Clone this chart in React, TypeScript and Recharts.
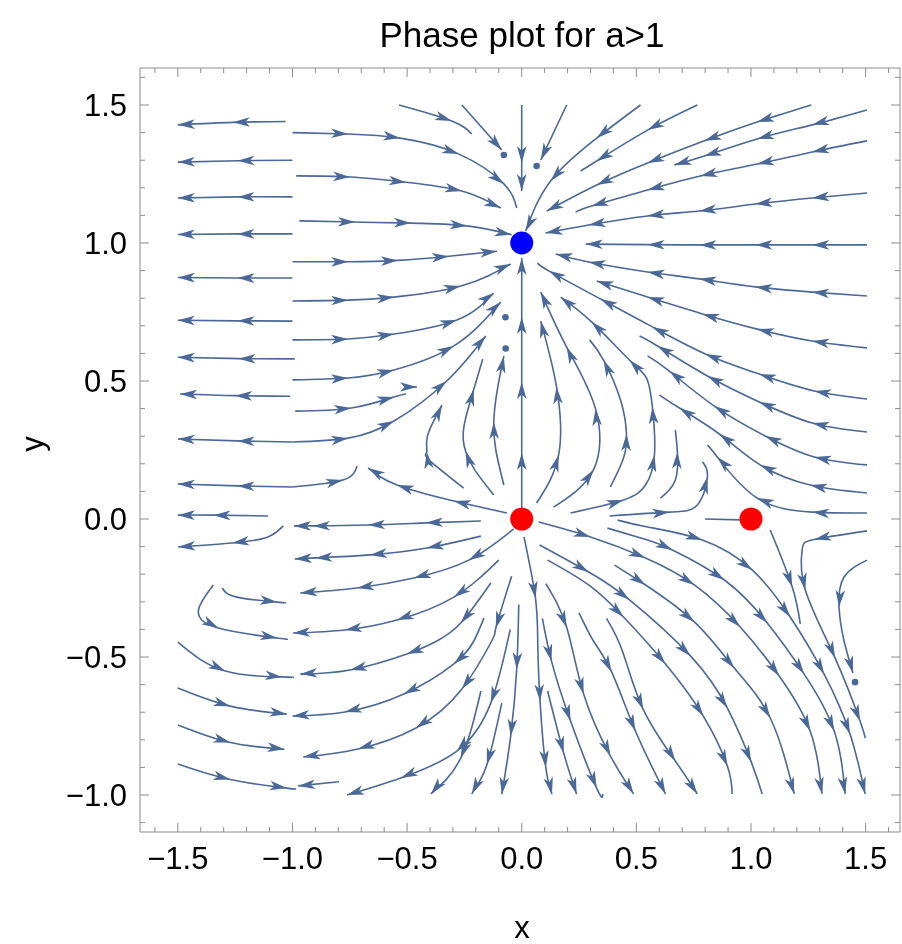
import React from "react";
import { ComposedChart, Line, Scatter, XAxis, YAxis, ReferenceDot } from "recharts";

// ── data (x / y in plot units, 3rd value = arrowhead at that point) ──
type Pt = [number, number, number];

const FAR_LEFT: Pt[][] = [
  [[-1.03, 1.44, 0], [-1.26, 1.437, 1], [-1.5, 1.428, 1]],
  [[-1.0, 1.3, 0], [-1.24, 1.298, 1], [-1.5, 1.293, 1]],
  [[-1.0, 1.167, 0], [-1.24, 1.167, 1], [-1.5, 1.163, 1]],
  [[-1.0, 1.033, 0], [-1.24, 1.033, 1], [-1.5, 1.031, 1]],
  [[-1.0, 0.873, 0], [-1.24, 0.873, 1], [-1.5, 0.875, 1]],
  [[-1.0, 0.717, 0], [-1.24, 0.718, 1], [-1.5, 0.72, 1]],
  [[-0.99, 0.58, 0], [-1.235, 0.581, 1], [-1.5, 0.586, 1]],
  [[-1.01, 0.445, 0], [-1.25, 0.447, 1], [-1.49, 0.453, 1]],
  [[-1.0, 0.279, 0], [-1.24, 0.283, 1], [-1.5, 0.29, 1]],
  [[-1.0, 0.116, 0], [-1.24, 0.12, 1], [-1.5, 0.127, 1]],
  [[-1.106, 0.011, 0], [-1.345, 0.014, 1], [-1.5, 0.014, 1]],
  [[-1.04, -0.025, 0], [-1.11, -0.066, 0], [-1.263, -0.087, 1], [-1.498, -0.101, 1]],
  [[-1.306, -0.25, 0], [-1.242, -0.283, 0], [-1.067, -0.301, 1], [-1.032, -0.304, 0]],
  [[-1.345, -0.239, 0], [-1.41, -0.33, 0], [-1.323, -0.395, 1], [-1.067, -0.431, 1], [-1.032, -0.435, 0]],
  [[-1.5, -0.446, 0], [-1.293, -0.551, 1], [-1.045, -0.572, 1], [-0.997, -0.576, 0]],
  [[-1.5, -0.612, 0], [-1.271, -0.678, 1], [-1.025, -0.707, 1]],
  [[-1.5, -0.746, 0], [-1.271, -0.81, 1], [-1.035, -0.834, 1]],
  [[-1.5, -0.888, 0], [-1.271, -0.944, 1], [-1.025, -0.975, 1], [-0.995, -0.977, 0]],
];

const TOP_LEFT: Pt[][] = [
  [[-1.0, 1.4, 0], [-0.757, 1.395, 1], [-0.53, 1.38, 1], [-0.274, 1.322, 1], [-0.078, 1.214, 1], [-0.022, 1.127, 0]],
  [[-0.984, 1.243, 0], [-0.749, 1.239, 1], [-0.505, 1.22, 1], [-0.261, 1.188, 1], [-0.091, 1.127, 1]],
  [[-0.97, 1.08, 0], [-0.727, 1.076, 1], [-0.483, 1.072, 1], [-0.239, 1.062, 1], [-0.044, 1.03, 1]],
  [[-1.0, 0.932, 0], [-0.757, 0.932, 1], [-0.54, 0.937, 1], [-0.318, 0.952, 1], [-0.108, 0.97, 1]],
  [[-1.0, 0.79, 0], [-0.757, 0.793, 1], [-0.557, 0.804, 1], [-0.266, 0.844, 1], [-0.048, 0.924, 1]],
  [[-1.0, 0.649, 0], [-0.757, 0.652, 1], [-0.557, 0.67, 1], [-0.283, 0.721, 1], [-0.122, 0.819, 1]],
  [[-1.0, 0.504, 0], [-0.757, 0.511, 1], [-0.557, 0.54, 1], [-0.296, 0.627, 1], [-0.091, 0.786, 1]],
  [[-0.988, 0.391, 0], [-0.744, 0.402, 1], [-0.557, 0.442, 1], [-0.505, 0.453, 0]],
  [[-0.5, 0.478, 0], [-0.457, 0.478, 1]],
  [[-1.0, 0.279, 0], [-0.757, 0.293, 1], [-0.557, 0.355, 1], [-0.327, 0.5, 1], [-0.157, 0.663, 1]],
  [[-1.0, 0.116, 0], [-0.78, 0.141, 1], [-0.718, 0.192, 0]],
  [[-0.535, 1.5, 0], [-0.305, 1.442, 1], [-0.218, 1.395, 0]],
  [[-0.261, 1.5, 0], [-0.087, 1.337, 1]],
  [[0, 1.5, 0], [0, 1.29, 1], [0, 1.188, 1]],
];

const TOP_RIGHT: Pt[][] = [
  [[0.196, 1.5, 0], [0.083, 1.301, 1]],
  [[0.518, 1.5, 0], [0.327, 1.38, 1], [0.126, 1.225, 1], [0.017, 1.043, 1]],
  [[0.766, 1.5, 0], [0.549, 1.409, 1], [0.327, 1.297, 1], [0.257, 1.261, 0]],
  [[1.263, 1.5, 0], [1.027, 1.438, 1], [0.797, 1.37, 1], [0.549, 1.29, 1], [0.327, 1.21, 1], [0.109, 1.116, 1]],
  [[1.506, 1.482, 0], [1.267, 1.428, 1], [1.027, 1.377, 1], [0.797, 1.315, 1], [0.666, 1.283, 1]],
  [[1.506, 1.37, 0], [1.267, 1.33, 1], [1.027, 1.286, 1], [0.779, 1.243, 1], [0.549, 1.192, 1], [0.305, 1.134, 1], [0.235, 1.112, 0]],
  [[1.506, 1.181, 0], [1.267, 1.163, 1], [1.019, 1.141, 1], [0.775, 1.116, 1], [0.549, 1.098, 1], [0.292, 1.065, 1], [0.104, 1.036, 1]],
  [[1.506, 0.993, 0], [1.267, 0.993, 1], [1.019, 0.993, 1], [0.775, 0.993, 1], [0.549, 0.994, 1], [0.279, 0.996, 1]],
  [[1.506, 0.808, 0], [1.267, 0.822, 1], [1.019, 0.841, 1], [0.775, 0.87, 1], [0.549, 0.895, 1], [0.292, 0.931, 1], [0.148, 0.96, 1]],
  [[1.506, 0.62, 0], [1.267, 0.645, 1], [1.027, 0.688, 1], [0.788, 0.743, 1], [0.549, 0.804, 1], [0.327, 0.862, 1]],
  [[1.506, 0.435, 0], [1.276, 0.464, 1], [1.036, 0.525, 1], [0.801, 0.598, 1], [0.57, 0.696, 1], [0.344, 0.797, 1], [0.118, 0.899, 1], [0.07, 0.928, 0]],
  [[1.506, 0.315, 0], [1.267, 0.348, 1], [1.036, 0.424, 1], [0.81, 0.518, 1], [0.592, 0.627, 1], [0.514, 0.663, 0]],
  [[1.506, 0.196, 0], [1.276, 0.225, 1], [1.062, 0.301, 1], [0.84, 0.409, 1], [0.644, 0.536, 1], [0.549, 0.591, 0]],
  [[1.506, 0.094, 0], [1.258, 0.123, 1], [1.04, 0.196, 1], [0.862, 0.308, 1], [0.688, 0.402, 1], [0.601, 0.449, 0]],
  [[1.506, 0.022, 0], [1.267, 0.025, 1], [1.027, 0.076, 1], [0.853, 0.225, 1], [0.81, 0.268, 0]],
];

const CENTER: Pt[][] = [
  [[0, 0.036, 0], [0, 0.239, 1], [0, 0.496, 1], [0, 0.732, 1], [0, 0.946, 1]],
  [[-0.253, 0.112, 0], [-0.405, 0.214, 0], [-0.414, 0.243, 1], [-0.411, 0.301, 0], [-0.348, 0.413, 1]],
  [[-0.122, 0.087, 0], [-0.205, 0.178, 0], [-0.245, 0.246, 1], [-0.253, 0.33, 0], [-0.209, 0.47, 1], [-0.17, 0.58, 0]],
  [[-0.078, 0.123, 0], [-0.113, 0.25, 0], [-0.122, 0.351, 1], [-0.108, 0.46, 0], [-0.078, 0.59, 1]],
  [[0.065, 0.058, 0], [0.161, 0.232, 1], [0.152, 0.478, 1], [0.083, 0.717, 1]],
  [[0.139, 0.043, 0], [0.313, 0.178, 1], [0.322, 0.399, 1], [0.196, 0.623, 1], [0.083, 0.822, 1]],
  [[0.387, 0.116, 0], [0.444, 0.221, 0], [0.457, 0.308, 1], [0.431, 0.431, 0], [0.357, 0.576, 1], [0.296, 0.649, 0]],
  [[0.213, 0.022, 0], [0.444, 0.069, 1], [0.54, 0.123, 0], [0.579, 0.232, 1], [0.57, 0.406, 1], [0.544, 0.511, 0], [0.47, 0.576, 1], [0.305, 0.714, 1], [0.17, 0.804, 1]],
  [[0.605, 0.076, 0], [0.67, 0.141, 0], [0.679, 0.243, 1], [0.67, 0.322, 0]],
  [[0.383, 0.011, 0], [0.644, 0.025, 1], [0.766, 0.051, 0], [0.81, 0.152, 1], [0.788, 0.207, 0]],
  [[0.8, 0, 0], [0.953, -0.003, 0]],
];

const LOWER_LEFT: Pt[][] = [
  [[-0.065, 0.022, 0], [-0.296, 0.065, 1], [-0.544, 0.123, 1], [-0.67, 0.185, 1]],
  [[-0.178, -0.007, 0], [-0.418, -0.014, 1], [-0.67, -0.022, 1], [-0.91, -0.025, 1], [-0.993, -0.025, 1]],
  [[-0.178, -0.062, 0], [-0.414, -0.105, 1], [-0.662, -0.13, 1], [-0.9, -0.141, 1], [-0.99, -0.145, 1]],
  [[-0.035, -0.036, 0], [-0.231, -0.149, 1], [-0.47, -0.214, 1], [-0.718, -0.25, 1], [-0.966, -0.268, 1]],
  [[-0.1, -0.149, 0], [-0.296, -0.283, 1], [-0.544, -0.366, 1], [-0.771, -0.402, 1], [-0.997, -0.413, 1]],
  [[-0.135, -0.232, 0], [-0.266, -0.377, 1], [-0.37, -0.442, 0], [-0.501, -0.489, 1], [-0.749, -0.547, 1], [-0.966, -0.562, 1]],
  [[-0.165, -0.359, 0], [-0.209, -0.442, 0], [-0.296, -0.525, 1], [-0.514, -0.634, 1], [-0.771, -0.699, 1], [-1.0, -0.714, 1]],
  [[-0.044, -0.207, 0], [-0.113, -0.395, 1], [-0.131, -0.442, 0], [-0.261, -0.616, 1], [-0.461, -0.757, 1], [-0.714, -0.833, 1], [-0.953, -0.862, 1]],
  [[-0.05, -0.4, 0], [-0.135, -0.667, 1], [-0.283, -0.841, 1], [-0.527, -0.938, 1], [-0.762, -1.0, 1]],
  [[-0.797, -0.952, 0], [-0.975, -0.967, 1]],
  [[-0.178, -0.623, 0], [-0.266, -0.866, 1], [-0.396, -0.996, 1]],
  [[-0.087, -0.667, 0], [-0.152, -0.89, 1], [-0.218, -0.996, 1]],
  [[-0.013, -0.31, 0], [-0.022, -0.545, 1], [-0.048, -0.786, 1], [-0.087, -0.997, 1]],
];

const LOWER_RIGHT: Pt[][] = [
  [[0.01, -0.065, 0], [0.06, -0.287, 1], [0.07, -0.45, 0], [0.08, -0.66, 1], [0.105, -0.9, 1], [0.132, -0.997, 1]],
  [[0.113, -0.623, 0], [0.183, -0.848, 1], [0.239, -0.996, 1]],
  [[0.09, -0.36, 0], [0.13, -0.515, 1], [0.213, -0.732, 1], [0.327, -0.975, 1], [0.353, -0.996, 0]],
  [[0.105, -0.234, 0], [0.196, -0.392, 1], [0.27, -0.634, 1], [0.387, -0.859, 1], [0.488, -0.996, 1]],
  [[0.25, -0.34, 0], [0.313, -0.442, 0], [0.392, -0.554, 1], [0.496, -0.768, 1], [0.627, -0.996, 1]],
  [[0.37, -0.36, 0], [0.44, -0.48, 0], [0.53, -0.69, 1], [0.67, -0.877, 1], [0.766, -0.996, 1]],
  [[0.113, -0.149, 0], [0.292, -0.239, 0], [0.444, -0.355, 1], [0.627, -0.525, 1], [0.792, -0.714, 1], [0.897, -0.895, 1], [0.918, -0.996, 0]],
  [[0.078, -0.094, 0], [0.292, -0.192, 1], [0.47, -0.293, 1], [0.736, -0.496, 1], [0.897, -0.685, 1], [1.001, -0.88, 1], [1.049, -0.996, 0]],
  [[0.405, -0.167, 0], [0.54, -0.239, 1], [0.753, -0.373, 1], [0.927, -0.54, 1], [1.084, -0.721, 1], [1.189, -0.996, 1]],
  [[0.074, -0.011, 0], [0.3, -0.065, 1], [0.54, -0.141, 1], [0.753, -0.239, 1], [0.953, -0.391, 1], [1.123, -0.569, 1], [1.258, -0.768, 1], [1.31, -0.996, 1]],
  [[0.374, -0.033, 0], [0.549, -0.076, 0], [0.657, -0.112, 1], [0.884, -0.221, 1], [1.071, -0.377, 1], [1.232, -0.562, 1], [1.363, -0.768, 1], [1.411, -0.996, 1]],
  [[0.418, -0.004, 0], [0.549, -0.029, 0], [0.788, -0.076, 1], [1.006, -0.185, 1], [1.171, -0.355, 1], [1.319, -0.562, 1], [1.432, -0.779, 1], [1.498, -0.996, 1]],
  [[1.506, -0.043, 0], [1.276, -0.074, 1], [1.223, -0.112, 0], [1.237, -0.257, 1], [1.367, -0.504, 1], [1.476, -0.733, 1], [1.498, -0.794, 0]],
  [[1.506, -0.149, 0], [1.406, -0.21, 0], [1.384, -0.319, 1], [1.406, -0.442, 0], [1.445, -0.558, 1]],
  [[1.084, -0.04, 0], [1.18, -0.246, 1], [1.215, -0.38, 0]],
];

const STREAM_DOTS: [number, number][] = [
  [-0.078, 1.319], [0.065, 1.279], [-0.071, 0.731], [-0.07, 0.618], [1.454, -0.591],
];
const SOURCE_POINTS: [number, number][] = [[0, 0], [1, 0]];
const SINK_POINTS: [number, number][] = [[0, 1]];

// ── layout ─────────────────────────────────────────────────────────────────────
const W = 902;
const H = 944;
const Y_AXIS_W = 140;
const X_AXIS_H = 112;
const MARGIN = { top: 67, right: 1, bottom: 0, left: 0 };
const X_DOMAIN: [number, number] = [-1.665, 1.65];
const Y_DOMAIN: [number, number] = [-1.134, 1.634];
const KX = (W - MARGIN.left - MARGIN.right - 1 - Y_AXIS_W) / (X_DOMAIN[1] - X_DOMAIN[0]);
const KY = (H - MARGIN.top - 1 - X_AXIS_H) / (Y_DOMAIN[1] - Y_DOMAIN[0]);

const STREAM = "#4a6898";
const FRAME = "#8c8c8c";
const FONT = "'Liberation Sans', Arial, sans-serif";
const TICK_FONT = 31;

const minorRange = (a: number, b: number) => {
  const out: number[] = [];
  for (let i = Math.round(a * 10); i <= Math.round(b * 10); i++) out.push(i / 10);
  return out;
};
const X_TICKS = minorRange(-1.6, 1.6);
const Y_TICKS = minorRange(-1.1, 1.6);
const isMajor = (v: number) => Math.abs(v * 2 - Math.round(v * 2)) < 1e-6;
const fmt = (v: number) => (Math.abs(v) < 1e-9 ? "0.0" : v.toFixed(1).replace("-", "\u2212"));

const STREAMS: Pt[][] = [...FAR_LEFT, ...TOP_LEFT, ...TOP_RIGHT, ...CENTER, ...LOWER_LEFT, ...LOWER_RIGHT];

// arrowheads sit on flagged points, pointing along the local direction of the line
const ARROWS = STREAMS.flatMap((s) =>
  s.flatMap((p, i) => {
    if (!p[2] || i === 0) return [];
    const prev = s[i - 1];
    const next = s[i + 1];
    const dx = next ? (next[0] - prev[0]) * 0.35 + (p[0] - prev[0]) * 0.65 : p[0] - prev[0];
    const dy = next ? (next[1] - prev[1]) * 0.35 + (p[1] - prev[1]) * 0.65 : p[1] - prev[1];
    return [{ x: p[0], y: p[1], ang: (Math.atan2(-dy * KY, dx * KX) * 180) / Math.PI }];
  })
);

function ArrowHead(props: any) {
  const { cx, cy, payload } = props;
  if (cx == null || cy == null) return null;
  return (
    <path
      d="M0,0 L-17,-4.8 L-12.5,0 L-17,4.8 Z"
      transform={`translate(${cx},${cy}) rotate(${payload.ang})`}
      fill={STREAM}
    />
  );
}

function SmallDot(props: any) {
  const { cx, cy } = props;
  return <circle cx={cx} cy={cy} r={3.3} fill={STREAM} />;
}

function BottomTick(p: any) {
  const v = p.payload.value;
  const major = isMajor(v);
  return (
    <g>
      <line x1={p.x} x2={p.x} y1={p.y} y2={p.y - (major ? 9 : 5)} stroke={FRAME} />
      {major && (
        <text x={p.x} y={p.y + 37} textAnchor="middle" fontSize={TICK_FONT} fontFamily={FONT} fill="#000">
          {fmt(v)}
        </text>
      )}
    </g>
  );
}
function TopTick(p: any) {
  const major = isMajor(p.payload.value);
  return <line x1={p.x} x2={p.x} y1={p.y} y2={p.y + (major ? 9 : 5)} stroke={FRAME} />;
}
function LeftTick(p: any) {
  const v = p.payload.value;
  const major = isMajor(v);
  return (
    <g>
      <line x1={p.x} x2={p.x + (major ? 9 : 5)} y1={p.y} y2={p.y} stroke={FRAME} />
      {major && (
        <text x={p.x - 13} y={p.y + 11} textAnchor="end" fontSize={TICK_FONT} fontFamily={FONT} fill="#000">
          {fmt(v)}
        </text>
      )}
    </g>
  );
}
function RightTick(p: any) {
  const major = isMajor(p.payload.value);
  return <line x1={p.x} x2={p.x - (major ? 9 : 5)} y1={p.y} y2={p.y} stroke={FRAME} />;
}

export default function App() {
  const axisCommon = {
    type: "number" as const,
    allowDataOverflow: true,
    interval: 0 as const,
    tickSize: 0,
    tickMargin: 0,
    tickLine: false,
    axisLine: { stroke: FRAME },
  };
  const label = {
    position: "absolute" as const, textAlign: "center" as const,
    fontFamily: FONT, color: "#000",
  };
  return (
    <div style={{ position: "fixed", left: 0, top: 0, width: W, height: H, background: "#fff" }}>
      <div style={{ ...label, left: 222, width: 600, top: 15, fontSize: 35, lineHeight: "40px" }}>
        Phase plot for a&gt;1
      </div>
      <div style={{ ...label, left: 502, width: 40, top: 910, fontSize: 31, lineHeight: "36px" }}>x</div>
      <div style={{ ...label, left: 13, width: 40, top: 426, fontSize: 31, lineHeight: "36px", transform: "rotate(-90deg)" }}>
        y
      </div>
      <ComposedChart width={W} height={H} margin={MARGIN} style={{ position: "absolute", left: 0, top: 0 }}>
        <XAxis {...axisCommon} dataKey="x" domain={X_DOMAIN} ticks={X_TICKS} height={X_AXIS_H} tick={<BottomTick />} />
        <XAxis {...axisCommon} xAxisId="t" orientation="top" dataKey="x" domain={X_DOMAIN} ticks={X_TICKS} height={1} tick={<TopTick />} />
        <YAxis {...axisCommon} dataKey="y" domain={Y_DOMAIN} ticks={Y_TICKS} width={Y_AXIS_W} tick={<LeftTick />} />
        <YAxis {...axisCommon} yAxisId="r" orientation="right" dataKey="y" domain={Y_DOMAIN} ticks={Y_TICKS} width={1} tick={<RightTick />} />
        {STREAMS.map((s, i) => (
          <Line
            key={i}
            data={s.map((p) => ({ x: p[0], y: p[1] }))}
            dataKey="y"
            type="natural"
            stroke={STREAM}
            strokeWidth={1.6}
            dot={false}
            activeDot={false}
            isAnimationActive={false}
          />
        ))}
        <Scatter data={ARROWS} dataKey="y" shape={<ArrowHead />} isAnimationActive={false} />
        <Scatter
          xAxisId="t"
          yAxisId="r"
          data={STREAM_DOTS.map(([x, y]) => ({ x, y }))}
          dataKey="y"
          shape={<SmallDot />}
          isAnimationActive={false}
        />
        {SOURCE_POINTS.map(([x, y]) => (
          <ReferenceDot key={`s${x}`} x={x} y={y} r={11.5} fill="#ff0000" stroke="none" />
        ))}
        {SINK_POINTS.map(([x, y]) => (
          <ReferenceDot key={`k${x}`} x={x} y={y} r={11.5} fill="#0000ff" stroke="none" />
        ))}
      </ComposedChart>
    </div>
  );
}
